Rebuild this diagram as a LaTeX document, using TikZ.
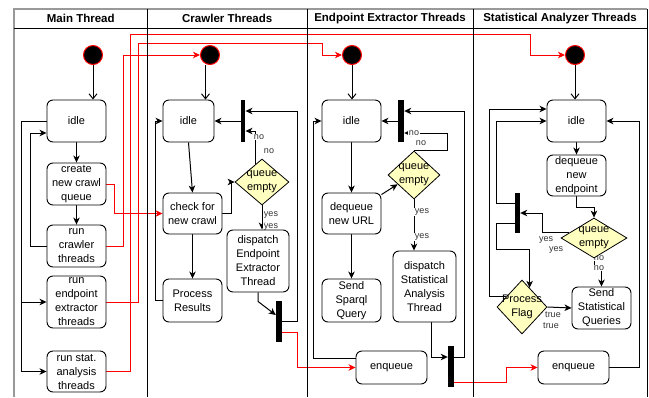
\documentclass[tikz,border=0pt]{standalone}
\usepackage{fontspec}
\setmainfont{Liberation Sans}
\usetikzlibrary{shapes.geometric,arrows.meta,calc}
\pgfdeclarelayer{bg}
\pgfsetlayers{bg,main}
\newcommand\boxfont{\fontsize{11}{14}\selectfont}
\newcommand\lblfont{\fontsize{9}{10}\selectfont}
\definecolor{diafill}{HTML}{FFFFC0}
\newcommand\abox[6]{\node[box,minimum width=#4pt,minimum height=#5pt,txt={#6}] (#1) at (#2,#3) {};}
\begin{document}
\begin{tikzpicture}[x=1pt,y=-1pt,
  box/.style={draw, rounded corners=6pt, fill=white, line width=0.9pt, inner sep=0pt},
  txt/.style={label={[font=\boxfont,align=center]center:#1}},
  dia/.style={diamond, draw, fill=diafill, line width=0.8pt, inner sep=0pt},
  bar/.style={rectangle, fill=black, inner sep=0pt},
  startc/.style={circle, fill=black, draw=red, line width=1pt, minimum size=19pt, inner sep=0pt},
  ar/.style={-{Stealth[length=7pt,width=6.5pt,inset=2pt]}, line width=1pt},
  oar/.style={-{Straight Barb[length=5pt,width=8pt]}, line width=1pt},
  rar/.style={red, line width=1pt, -{Stealth[length=7pt,width=6.5pt,inset=2pt]}},
  lbl/.style={font=\lblfont, fill=white, inner sep=0.5pt, text=black!80},
  hdr/.style={font=\fontsize{11.5}{13}\selectfont\bfseries}]
\useasboundingbox (0,0) rectangle (649,397);

% frame
\draw[gray!80, line width=1.5pt] (14,397) -- (14,9) -- (647,9);
\draw[line width=1pt] (647,9) -- (647,397);
\draw[line width=1pt] (14,28) -- (647,28);
\foreach \x in {147.5,307,473} \draw[line width=1pt] (\x,9) -- (\x,397);
\node[hdr] (h1) at (80.75,18.5) {Main Thread};
\node[hdr] (h2) at (227.25,18.5) {Crawler Threads};
\node[hdr] (h3) at (390,18.5) {Endpoint Extractor Threads};
\node[hdr] (h4) at (560,18.5) {Statistical Analyzer Threads};

% Main thread
\node[startc] (ms) at (93,55) {};
\abox{midle}{76.5}{121}{59}{42}{idle}
\abox{mcreate}{76.5}{184}{59}{42}{create\\new crawl\\queue}
\abox{mrunc}{76.5}{246}{59}{42}{run\\crawler\\threads}
\abox{mrune}{76.5}{302}{59}{52}{run\\endpoint\\extractor\\threads}
\abox{mruns}{76.5}{371.5}{59}{41}{run stat.\\analysis\\threads}

% Crawler
\node[startc] (cs) at (210,55) {};
\abox{cidle}{188.5}{121}{51}{42}{idle}
\node[bar, minimum width=4.5pt, minimum height=42pt] (cbar) at (243,121) {};
\abox{ccheck}{192.5}{213.5}{59}{41}{check for\\new crawl}
\abox{cproc}{192.5}{300.5}{59}{43}{Process\\Results}
\node[dia, minimum width=54pt, minimum height=46pt, txt={queue\\empty}] (cdia) at (262,182) {};
\abox{cdisp}{258}{261}{62}{62}{dispatch\\Endpoint\\Extractor\\Thread}
\node[bar, minimum width=6pt, minimum height=41pt] (cbar2) at (279,321.5) {};

% Endpoint
\node[startc] (es) at (352,55) {};
\abox{eidle}{351.5}{121}{59}{42}{idle}
\node[bar, minimum width=6pt, minimum height=42pt] (ebar) at (401,121) {};
\node[dia, minimum width=52pt, minimum height=48pt, txt={queue\\empty}] (edia) at (414,175) {};
\abox{edeq}{351.5}{213.5}{59}{41}{dequeue\\new URL}
\abox{esend}{351.5}{300.5}{59}{43}{Send\\Sparql\\Query}
\abox{edisp}{424.5}{286.5}{63}{71}{dispatch\\Statistical\\Analysis\\Thread}
\abox{eenq}{391.5}{367.5}{71}{33}{enqueue}
\node[bar, minimum width=6pt, minimum height=41pt] (ebar2) at (451,366.5) {};

% Statistical
\node[startc] (ss) at (575,55) {};
\abox{sidle}{576.5}{121}{59}{42}{idle}
\abox{sdeq}{576.5}{175.5}{59}{41}{dequeue\\new\\endpoint}
\node[dia, minimum width=66pt, minimum height=40pt, txt={queue\\empty}] (sdia) at (594,238) {};
\node[bar, minimum width=5pt, minimum height=40pt] (sbar) at (517.5,213) {};
\node[dia, minimum width=50pt, minimum height=54pt, txt={Process\\Flag}] (sflag) at (522,307) {};
\abox{ssend}{601.5}{308}{59}{42}{Send\\Statistical\\Queries}
\abox{senq}{573.5}{367.5}{71}{33}{enqueue}

\coordinate (cdiano) at ($(cdia.north)!0.22!(cdia.west)$);
\coordinate (ediain) at ($(edia.west)!0.38!(edia.south)$);
\coordinate (sdiayes) at ($(sdia.west)!0.25!(sdia.north)$);
\coordinate (sflagne) at ($(sflag.north)!0.3!(sflag.east)$);
\coordinate (sflagnw) at ($(sflag.west)!0.37!(sflag.north)$);

\begin{pgfonlayer}{bg}
% main
\draw[oar] (ms.south) -- (ms.south |- midle.north);
\draw[ar] (midle.south) -- (mcreate.north);
\draw[ar] (mcreate.south) -- (mrunc.north);
\draw[ar] (midle.west) -- ++(-25,0) |- (mruns.west);
\draw[ar] ([xshift=-25pt]mrune.west) -- (mrune.west);
\draw[ar] (mrunc.west) -- ++(-16,0) |- ([yshift=-12pt]midle.west);
% red
\draw[rar] (mcreate.east) -- ++(8,0) |- (ccheck.west);
\draw[rar] (mrunc.east) -- ++(17,0) |- (cs.west);
\draw[rar] (mrune.east) -- ++(32,0) |- (322,43) |- (es.west);
\draw[rar] (mruns.east) -- ++(24,0) |- (530,34) |- (ss.west);
\draw[rar] ([yshift=-10.5pt]cbar2.east) -- ++(15,0) |- (eenq.west);
\draw[rar] ([yshift=-15.5pt]ebar2.east) -- ++(52,0) |- (senq.west);
% crawler
\draw[oar] ([xshift=-4.5pt]cs.south) -- ([xshift=-4.5pt]cs.south |- cidle.north);
\draw[ar] (cbar.west) -- (cidle.east);
\draw[ar] (cbar2.east) -- ++(15,0) |- ([yshift=10pt]cbar.east);
\draw[ar] (cdiano) |- ([yshift=-10pt]cbar.east);
\draw[ar] (ccheck.east) -- ++(9,0) |- (cdia.west);
\draw[ar] (cidle.south) -- (ccheck.north);
\draw[ar] (ccheck.south) -- (cproc.north);
\draw[ar] (cproc.west) -- ++(-7,0) |- (cidle.west);
\draw[ar] (cdia.south) -- (cdia.south |- cdisp.north);
\draw[ar] (cdisp.south) -- ++(0,9) -- ([yshift=6.5pt]cbar2.west);
% endpoint
\draw[oar] (es.south) -- (es.south |- eidle.north);
\draw[ar] (ebar.west) -- (eidle.east);
\draw[ar] ([yshift=9.5pt]ebar2.east) -- ++(10,0) |- ([yshift=10pt]ebar.east);
\draw[ar] (edia.north) -- ++(33,0) |- ([yshift=-12pt]ebar.east);
\draw[ar] (eidle.south) -- (edeq.north);
\draw[ar] ([yshift=-2pt]edeq.north east) -- (ediain);
\draw[ar] (edia.south) -- (edia.south |- edisp.north);
\draw[ar] (edeq.south) -- (esend.north);
\draw[ar] ([xshift=6.5pt]edisp.south) |- ([yshift=9.5pt]ebar2.west);
\draw[ar] ([yshift=9.5pt]eenq.west) -- ++(-42,0) |- (eidle.west);
% statistical
\draw[oar] (ss.south) -- (ss.south |- sidle.north);
\draw[ar] (sidle.south) -- (sdeq.north);
\draw[ar] (sdeq.south) -- ++(0,11) -| (sdia.north);
\draw[ar] (sdiayes) -- ++(-26,0) |- (sbar.east);
\draw[ar] ([yshift=10pt]sbar.west) -- ++(-18,0) |- (sidle.west);
\draw[ar] ([yshift=-10pt]sbar.west) -- ++(-18,0) |- ($(sflagne)+(0,-38)$) -- (sflagne);
\draw[ar] (sflagnw) -- ++(-17,0) |- ([yshift=12pt]sidle.west);
\draw[ar] (sflag.east) -- (ssend.west);
\draw[ar] (sdia.south) -- ++(0,12) -| (ssend.north);
\draw[ar] (senq.east) -- ++(30,0) |- (sidle.east);
% labels
\node[lbl] (l1) at (259,137) {no};
\node[lbl] (l2) at (269,151) {no};
\node[lbl] (l3) at (271,227) {yes};
\node[lbl] (l4) at (271,215) {yes};
\node[lbl] (l5) at (414,133) {no};
\node[lbl] (l6) at (421,143) {no};
\node[lbl] (l7) at (422,212) {yes};
\node[lbl] (l8) at (422,237) {yes};
\node[lbl] (l9) at (546,240) {yes};
\node[lbl] (l10) at (556,250) {yes};
\node[lbl] (l11) at (599,268) {no};
\node[lbl] (l12) at (599,258) {no};
\node[lbl] (l13) at (553,314.5) {true};
\node[lbl] (l14) at (551,325.5) {true};
\end{pgfonlayer}
\end{tikzpicture}
\end{document}
